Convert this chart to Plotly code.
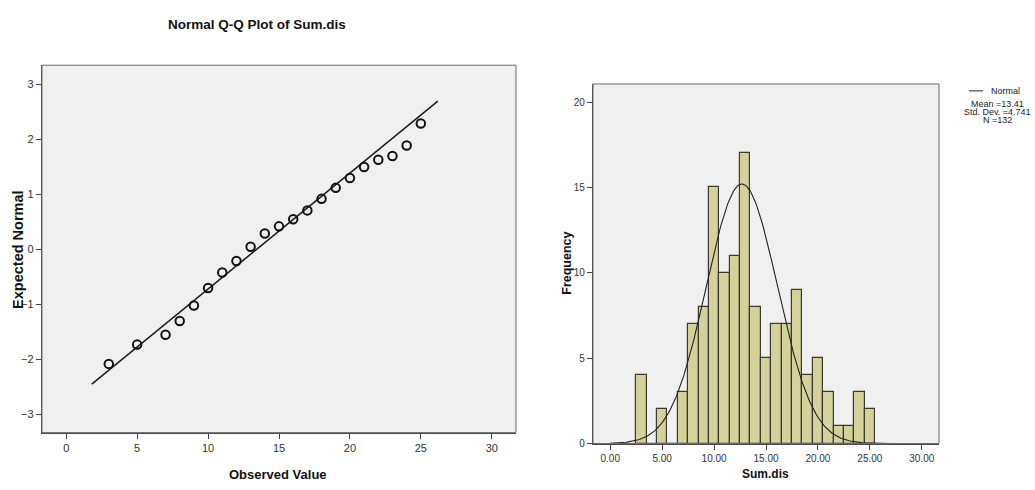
import numpy as np
import plotly.graph_objects as go

# ---- data ----
qq_observed = [3, 5, 7, 8, 9, 10, 11, 12, 13, 14, 15, 16, 17, 18, 19, 20, 21, 22, 23, 24, 25]
qq_expected = [-2.08, -1.73, -1.55, -1.30, -1.02, -0.70, -0.42, -0.21, 0.05, 0.29, 0.42,
               0.55, 0.71, 0.92, 1.12, 1.30, 1.50, 1.63, 1.70, 1.89, 2.29]

hist_values = [3, 4, 5, 6, 7, 8, 9, 10, 11, 12, 13, 14, 15, 16, 17, 18, 19, 20, 21, 22, 23, 24, 25]
hist_counts = [4, 0, 2, 0, 3, 7, 8, 15, 10, 11, 17, 8, 5, 7, 7, 9, 4, 5, 3, 1, 1, 3, 2]

sample_mean = 13.41
sample_sd = 4.741
sample_n = 132

# normal curve as drawn over the histogram (centre, spread, peak height)
curve_center = 12.68
curve_sd = 3.42
curve_peak = 15.2

qq_line_x = [1.8, 26.2]

x_ticks_qq = [0, 5, 10, 15, 20, 25, 30]
y_ticks_qq = [-3, -2, -1, 0, 1, 2, 3]
x_ticks_hist = [0, 5, 10, 15, 20, 25, 30]
x_ticklabels_hist = ["0.00", "5.00", "10.00", "15.00", "20.00", "25.00", "30.00"]
y_ticks_hist = [0, 5, 10, 15, 20]

NARROW = "Liberation Sans Narrow, Arial Narrow, Liberation Sans, Arial"
SANS = "Liberation Sans, Arial, sans-serif"
PANEL_BG = "#f0f0f0"

fig = go.Figure()

# Q-Q reference line from the sample mean and standard deviation
qq_line_y = [(v - sample_mean) / sample_sd for v in qq_line_x]
fig.add_trace(go.Scatter(x=qq_line_x, y=qq_line_y, mode="lines",
                         line=dict(color="#1a1a1a", width=1.5),
                         xaxis="x", yaxis="y", showlegend=False, hoverinfo="skip"))
fig.add_trace(go.Scatter(x=qq_observed, y=qq_expected, mode="markers",
                         marker=dict(symbol="circle-open", size=8.5, color="#111111",
                                     line=dict(width=2, color="#111111")),
                         xaxis="x", yaxis="y", showlegend=False))

# Histogram bars (unit bins centred on integer values)
fig.add_trace(go.Bar(x=hist_values, y=hist_counts, width=1.0,
                     marker=dict(color="#d5d19a", line=dict(color="#3a3a32", width=1.2)),
                     xaxis="x2", yaxis="y2", showlegend=False))

cx = np.linspace(0, 27, 300)
cy = curve_peak * np.exp(-0.5 * ((cx - curve_center) / curve_sd) ** 2)
fig.add_trace(go.Scatter(x=cx, y=cy, mode="lines", line=dict(color="#222222", width=1.1),
                         xaxis="x2", yaxis="y2", showlegend=False, hoverinfo="skip"))

W, H = 1035, 490
def px_x(v):
    return v / W
def px_y(v):
    return 1 - v / H

axis_common = dict(showgrid=False, zeroline=False, ticks="outside", ticklen=5,
                   tickcolor="#444444", showline=True, linecolor="#4a4a4a", linewidth=1.3,
                   mirror=False)

fig.update_layout(
    width=W, height=H,
    margin=dict(l=0, r=0, t=0, b=0),
    paper_bgcolor="white",
    plot_bgcolor=PANEL_BG,
    bargap=0,
    xaxis=dict(domain=[px_x(42), px_x(516)], range=[-1.71, 31.71], anchor="y",
               tickvals=x_ticks_qq, tickfont=dict(family=NARROW, size=11, color="#333333"),
               **axis_common),
    yaxis=dict(domain=[px_y(438), px_y(66)], range=[-3.33, 3.35], anchor="x",
               tickvals=y_ticks_qq, tickfont=dict(family=NARROW, size=11, color="#333333"),
               **axis_common),
    xaxis2=dict(domain=[px_x(593), px_x(939)], range=[-1.66, 31.66], anchor="y2",
                tickvals=x_ticks_hist, ticktext=x_ticklabels_hist,
                tickfont=dict(family=SANS, size=10, color="#333333"), **axis_common),
    yaxis2=dict(domain=[px_y(449), px_y(85)], range=[0, 21.06], anchor="x2",
                tickvals=y_ticks_hist, tickfont=dict(family=SANS, size=10, color="#333333"),
                **axis_common),
)

# right/top frame edges of both panels
for x0, x1, y0, y1 in [(42, 516, 66, 438), (593, 939, 85, 449)]:
    fig.add_shape(type="rect", xref="paper", yref="paper",
                  x0=px_x(x0), x1=px_x(x1), y0=px_y(y1), y1=px_y(y0),
                  line=dict(color="#6a6a6a", width=1), fillcolor="rgba(0,0,0,0)", layer="above")

annots = [
    dict(text="<b>Normal Q-Q Plot of Sum.dis</b>", x=px_x(257), y=px_y(25),
         font=dict(family=NARROW, size=13.5, color="#111111")),
    dict(text="<b>Expected Normal</b>", x=px_x(18), y=px_y(253), textangle=-90,
         font=dict(family=SANS, size=14.5, color="#111111")),
    dict(text="<b>Observed Value</b>", x=px_x(278), y=px_y(480),
         font=dict(family=NARROW, size=13, color="#111111")),
    dict(text="<b>Frequency</b>", x=px_x(567), y=px_y(267), textangle=-90,
         font=dict(family=SANS, size=12.5, color="#111111")),
    dict(text="<b>Sum.dis</b>", x=px_x(765), y=px_y(480),
         font=dict(family=SANS, size=12, color="#111111")),
    dict(text="Normal", x=px_x(1005), y=px_y(92),
         font=dict(family=SANS, size=9, color="#222222")),
    dict(text=f"Mean ={sample_mean:.2f}", x=px_x(997), y=px_y(105),
         font=dict(family=SANS, size=9, color="#222222")),
    dict(text=f"Std. Dev. ={sample_sd:.3f}", x=px_x(997), y=px_y(113),
         font=dict(family=SANS, size=9, color="#222222")),
    dict(text=f"N ={sample_n}", x=px_x(997), y=px_y(121),
         font=dict(family=SANS, size=9, color="#222222")),
]
for a in annots:
    fig.add_annotation(xref="paper", yref="paper", showarrow=False,
                       xanchor="center", yanchor="middle", **a)

# legend line sample
fig.add_shape(type="line", xref="paper", yref="paper",
              x0=px_x(969), x1=px_x(983), y0=px_y(92), y1=px_y(92),
              line=dict(color="#222222", width=1))

fig.write_html("out.html")
